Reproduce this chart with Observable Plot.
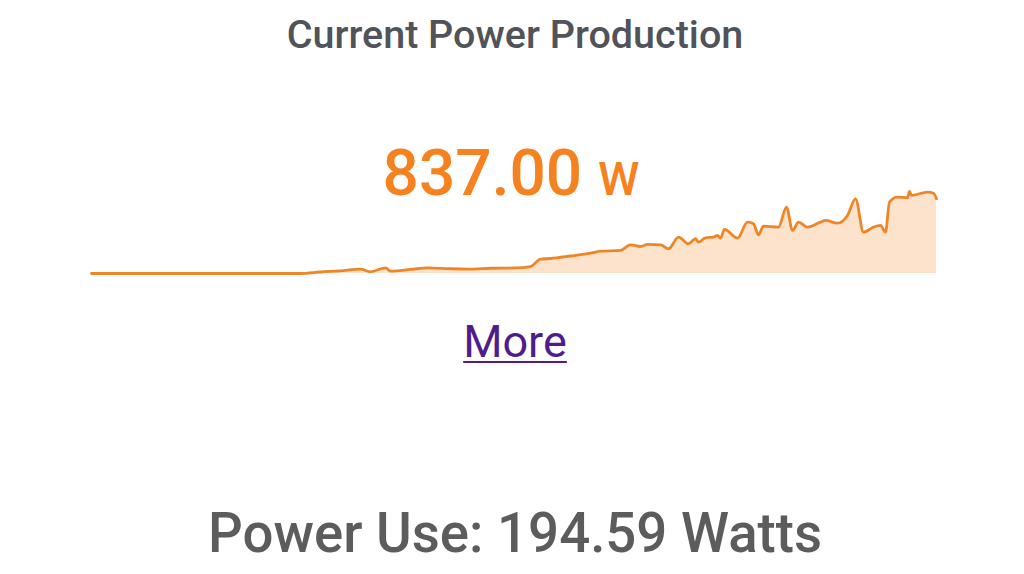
<!DOCTYPE html>
<html>
<head>
<meta charset="utf-8">
<script src="https://cdn.jsdelivr.net/npm/d3@7"></script>
<script src="https://cdn.jsdelivr.net/npm/@observablehq/plot@0.6"></script>
<style>
  html, body { margin: 0; padding: 0; background: #ffffff; }
  body { width: 1024px; height: 574px; position: relative; overflow: hidden; font-family: Roboto, "Noto Sans", sans-serif; }
  .t { position: absolute; left: 0; width: 1030px; text-align: center; line-height: 1; white-space: nowrap; }
  #title { top: 15px; font-size: 39.5px; font-weight: 500; color: #50535a; }
  #value { top: 142px; left: -4px; font-size: 64px; font-weight: 500; color: #f5821f; }
  #value .unit { font-size: 47px; }
  #more { top: 319px; font-size: 45px; }
  #more a { color: #4f1c8c; text-decoration: underline; text-decoration-thickness: 2px; text-underline-offset: 4px; }
  #use { top: 506px; font-size: 54.6px; font-weight: 500; color: #5c5c5c; }
  #chart { position: absolute; left: 91px; top: 180px; }
</style>
</head>
<body>
<div id="title" class="t"></div>
<div id="value" class="t"></div>
<div id="chart"></div>
<div id="more" class="t"></div>
<div id="use" class="t"></div>
<script>
// ---- data ----
const titleText = "Current Power Production";
const currentValue = "837.00";
const currentUnit = "W";
const moreText = "More";
const powerUseText = "Power Use: 194.59 Watts";

// minutes since start of the history window
const minutes = [0, 109, 209, 229, 249, 269, 279, 294, 299, 319, 336, 359, 379, 399, 424, 439, 449, 459, 479, 499, 509, 529, 539, 549, 556, 569, 577, 587, 597, 604, 607, 614, 622, 626, 629, 633, 646, 656, 662, 667, 672, 687, 695, 701, 707, 716, 729, 734, 746, 756, 764, 772, 782, 789, 794, 798, 806, 816, 818, 820, 836, 842, 845];
// power production, watts
const watts = [0, 0, 0, 17, 30, 48, 19, 64, 26, 45, 64, 53, 50, 59, 62, 78, 160, 168, 196, 227, 250, 258, 321, 302, 325, 321, 277, 407, 333, 389, 351, 400, 407, 426, 395, 493, 395, 575, 557, 433, 530, 519, 743, 482, 575, 519, 575, 594, 563, 650, 835, 463, 519, 538, 463, 799, 855, 848, 918, 874, 911, 899, 837];
const yMax = 918;

const data = minutes.map((m, i) => ({minute: m, watts: watts[i]}));

document.getElementById("title").textContent = titleText;
const v = document.getElementById("value");
v.append(document.createTextNode(currentValue + " "));
const u = document.createElement("span"); u.className = "unit"; u.textContent = currentUnit; v.append(u);
const a = document.createElement("a"); a.href = "#"; a.textContent = moreText;
document.getElementById("more").append(a);
document.getElementById("use").textContent = powerUseText;

const chart = Plot.plot({
  width: 845,
  height: 100,
  marginTop: 11,
  marginBottom: 7,
  marginLeft: 0,
  marginRight: 0,
  x: {domain: [0, 845], axis: null},
  y: {domain: [0, yMax], axis: null},
  style: {overflow: "visible", background: "transparent"},
  marks: [
    Plot.areaY(data, {x: "minute", y: "watts", fill: "#fde3cc", fillOpacity: 1, curve: "monotone-x"}),
    Plot.lineY(data, {x: "minute", y: "watts", stroke: "#ee8628", strokeWidth: 2.8, curve: "monotone-x"})
  ]
});
document.getElementById("chart").append(chart);
</script>
</body>
</html>
